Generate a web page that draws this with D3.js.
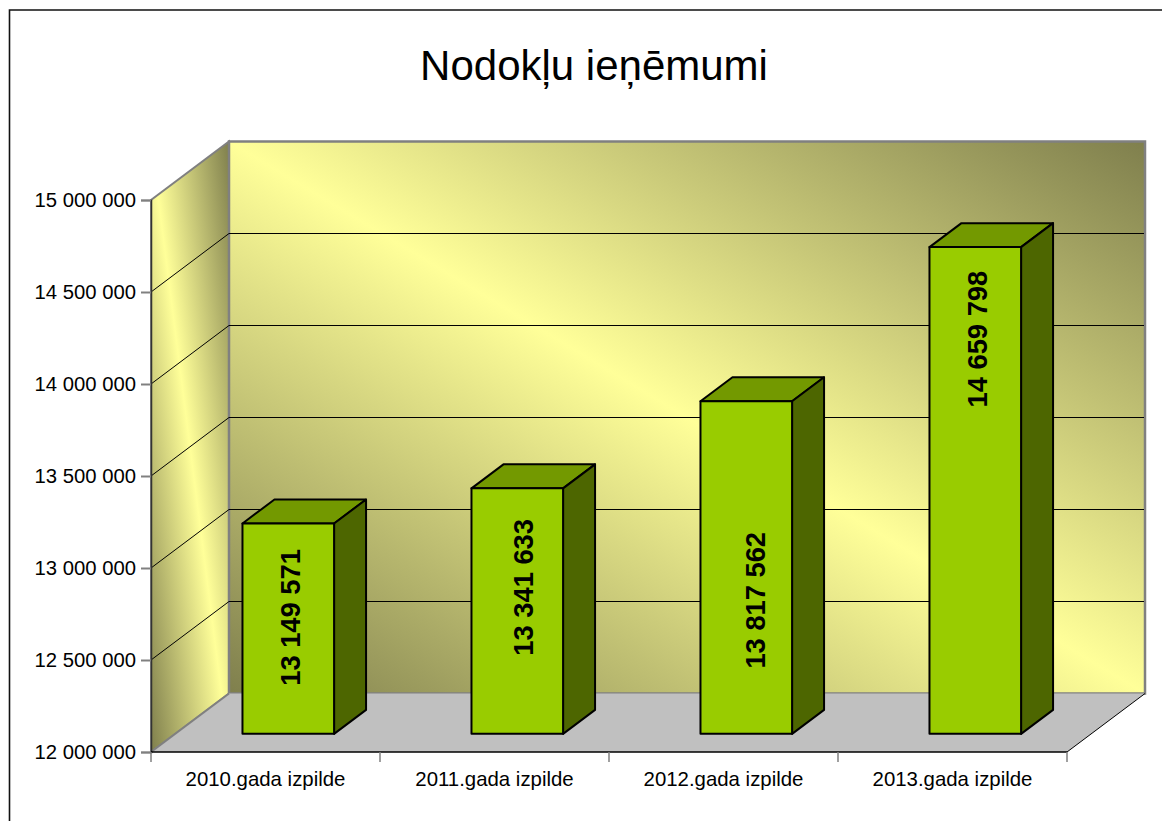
<!DOCTYPE html>
<html>
<head>
<meta charset="utf-8">
<script src="https://cdn.jsdelivr.net/npm/d3@7"></script>
<style>
  html, body { margin: 0; padding: 0; background: #fff; }
  svg { display: block; font-family: "Liberation Sans", Arial, sans-serif; }
</style>
</head>
<body>
<div id="container"></div>
<script>
var categories = ["2010.gada izpilde", "2011.gada izpilde", "2012.gada izpilde", "2013.gada izpilde"];
var values = [13149571, 13341633, 13817562, 14659798];
var yTicks = [12000000, 12500000, 13000000, 13500000, 14000000, 14500000, 15000000];
var titleText = "Nodokļu ieņēmumi";

var width = 1162, height = 821;

// 3d box of the plot: front face plus the depth offset to the back wall
var plot = {left: 151, right: 1067, bottom: 752, top: 200};
var depth = {x: 78, y: -58.5};
var barFront = 0.31, barBack = 0.72;   // where the bars sit inside the depth
var barNudge = -1.4;
var labelFromTop = [94, 99, 199, 92];  // label centre, px below the bar top
var labelFromMid = [2, 6.5, 9, 2];     // label centre, px right of the bar centre

var svg = d3.select("div#container").append("svg").attr("width", width).attr("height", height);

var xScale = d3.scaleBand().domain(categories).range([plot.left, plot.right]);
var yScale = d3.scaleLinear().domain([12000000, 15000000]).range([plot.bottom, plot.top]);
// bars come out a little shorter than the gridlines in the original
var barScale = d3.scaleLinear().domain([12000000, 15000000]).range([plot.bottom, plot.top + 3]);
var barWidth = xScale.bandwidth() * 0.4;

var spaced = d3.formatLocale({decimal: ".", thousands: " ", grouping: [3], currency: ["", ""]}).format(",");

function pts(list) {
  return list.map(function(p) { return p[0] + "," + p[1]; }).join(" ");
}

// gradients: light along one diagonal, dark olive in the two other corners
var defs = svg.append("defs");
var grad = defs.append("linearGradient").attr("id", "wall")
  .attr("x1", 0).attr("y1", 1).attr("x2", 1).attr("y2", 0);
grad.append("stop").attr("offset", "0").attr("stop-color", "#7f7f4d");
grad.append("stop").attr("offset", "0.5").attr("stop-color", "#ffff99");
grad.append("stop").attr("offset", "1").attr("stop-color", "#7f7f4d");

// outer frame
svg.append("path").attr("d", "M9.5," + height + "V10H" + width)
  .attr("fill", "none").attr("stroke", "#111").attr("stroke-width", 1.6);

svg.append("text").attr("x", 594).attr("y", 80).attr("text-anchor", "middle")
  .attr("font-size", 42).attr("fill", "#000").text(titleText);

var yMin = yScale(12000000), yMax = yScale(15000000);

// side wall
svg.append("polygon")
  .attr("points", pts([[plot.left, yMin], [plot.left, yMax], [plot.left + depth.x, yMax + depth.y], [plot.left + depth.x, yMin + depth.y]]))
  .attr("fill", "url(#wall)").attr("stroke", "#808080").attr("stroke-width", 2);

// back wall
svg.append("rect")
  .attr("x", plot.left + depth.x).attr("y", yMax + depth.y)
  .attr("width", plot.right - plot.left).attr("height", yMin - yMax)
  .attr("fill", "url(#wall)").attr("stroke", "#808080").attr("stroke-width", 2.5);

// floor
svg.append("polygon")
  .attr("points", pts([[plot.left, yMin], [plot.left + depth.x, yMin + depth.y], [plot.right + depth.x, yMin + depth.y], [plot.right, yMin]]))
  .attr("fill", "#c0c0c0");
svg.append("line").attr("x1", plot.left).attr("y1", yMin).attr("x2", plot.left + depth.x).attr("y2", yMin + depth.y)
  .attr("stroke", "#808080").attr("stroke-width", 2);
svg.append("line").attr("x1", plot.right).attr("y1", yMin).attr("x2", plot.right + depth.x).attr("y2", yMin + depth.y)
  .attr("stroke", "#000").attr("stroke-width", 1);

// gridlines on both walls
var grid = yTicks.filter(function(d) { return d > 12000000 && d < 15000000; });
svg.append("g").selectAll("path").data(grid).join("path")
  .attr("d", function(d) {
    var y = yScale(d);
    return "M" + plot.left + "," + y + "L" + (plot.left + depth.x) + "," + (y + depth.y) + "H" + (plot.right + depth.x - 1);
  })
  .attr("fill", "none").attr("stroke", "#000").attr("stroke-width", 1);

// axes
var yAxis = d3.axisLeft(yScale).tickValues(yTicks).tickFormat(spaced).tickSize(10).tickPadding(5);
var gy = svg.append("g").attr("transform", "translate(" + plot.left + ",0)").call(yAxis);
gy.select(".domain").attr("stroke", "#333").attr("stroke-width", 1.5);
gy.selectAll(".tick line").attr("stroke", "#808080").attr("stroke-width", 2);
gy.selectAll("text").attr("font-size", 20.3).attr("font-family", "Liberation Sans").attr("fill", "#000");

var xAxis = d3.axisBottom(xScale).tickSize(0).tickPadding(20);
var gx = svg.append("g").attr("transform", "translate(0," + plot.bottom + ")").call(xAxis);
gx.select(".domain").attr("stroke", "none");
gx.selectAll("text").attr("font-size", 20.4).attr("font-family", "Liberation Sans").attr("fill", "#000");

svg.append("line").attr("x1", plot.left).attr("y1", plot.bottom).attr("x2", plot.right).attr("y2", plot.bottom)
  .attr("stroke", "#000").attr("stroke-width", 1.5);
svg.append("g").selectAll("line").data(categories.concat([null])).join("line")
  .attr("x1", function(d, i) { return plot.left + i * xScale.bandwidth(); })
  .attr("x2", function(d, i) { return plot.left + i * xScale.bandwidth(); })
  .attr("y1", plot.bottom).attr("y2", plot.bottom + 10)
  .attr("stroke", "#808080").attr("stroke-width", 1.5);

// bars
var bars = svg.append("g").selectAll("g").data(values).join("g");

function barBox(d, i) {
  var x0 = xScale(categories[i]) + (xScale.bandwidth() - barWidth) / 2 + depth.x * barFront + barNudge;
  var yBase = barScale(12000000) + depth.y * barFront;
  var yTop = barScale(d) + depth.y * barFront;
  var dx = depth.x * (barBack - barFront), dy = depth.y * (barBack - barFront);
  return {x0: x0, x1: x0 + barWidth, yBase: yBase, yTop: yTop, dx: dx, dy: dy};
}

bars.append("polygon").attr("points", function(d, i) {
  var b = barBox(d, i);
  return pts([[b.x0, b.yTop], [b.x0 + b.dx, b.yTop + b.dy], [b.x1 + b.dx, b.yTop + b.dy], [b.x1, b.yTop]]);
}).attr("fill", "#739900");

bars.append("polygon").attr("points", function(d, i) {
  var b = barBox(d, i);
  return pts([[b.x1, b.yTop], [b.x1 + b.dx, b.yTop + b.dy], [b.x1 + b.dx, b.yBase + b.dy], [b.x1, b.yBase]]);
}).attr("fill", "#4d6600");

bars.append("rect")
  .attr("x", function(d, i) { return barBox(d, i).x0; })
  .attr("y", function(d, i) { return barBox(d, i).yTop; })
  .attr("width", barWidth)
  .attr("height", function(d, i) { var b = barBox(d, i); return b.yBase - b.yTop; })
  .attr("fill", "#99cc00");

bars.selectAll("polygon, rect").attr("stroke", "#000").attr("stroke-width", 2).attr("stroke-linejoin", "round");

bars.append("text")
  .attr("transform", function(d, i) {
    var b = barBox(d, i);
    return "translate(" + ((b.x0 + b.x1) / 2 + labelFromMid[i]) + "," + (b.yTop + labelFromTop[i]) + ") rotate(-90)";
  })
  .attr("text-anchor", "middle").attr("dy", "0.35em")
  .attr("font-size", 27.3).attr("font-weight", "bold").attr("fill", "#000")
  .text(function(d) { return spaced(d); });
</script>
</body>
</html>
